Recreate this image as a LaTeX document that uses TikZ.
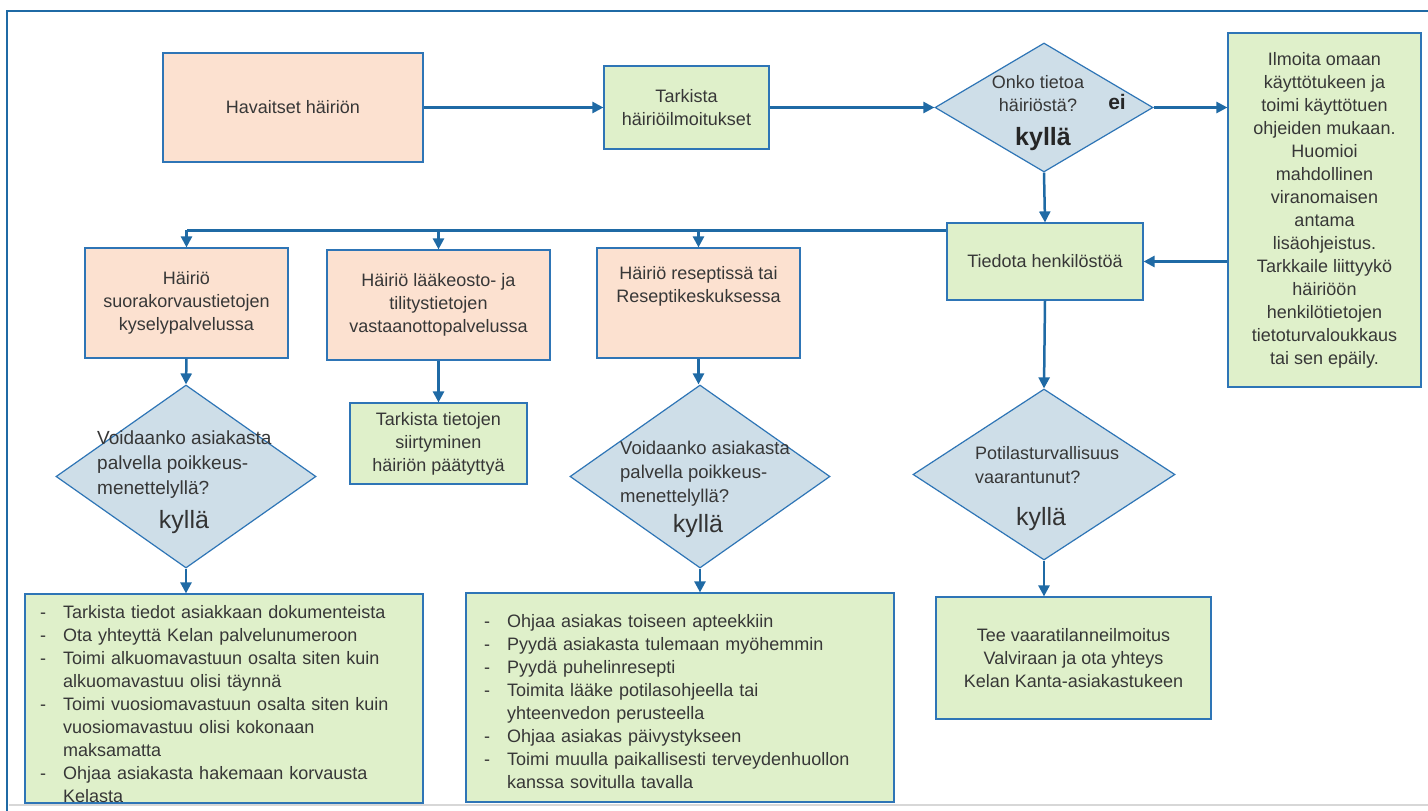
\documentclass[tikz,border=0pt]{standalone}
\usepackage{fontspec}
\setmainfont{Liberation Sans}
\usetikzlibrary{shapes.geometric,arrows.meta,calc}
\definecolor{peach}{RGB}{252,225,208}
\definecolor{lgreen}{RGB}{223,240,202}
\definecolor{diafill}{RGB}{206,222,232}
\definecolor{edge}{RGB}{46,117,182}
\definecolor{arrowc}{RGB}{31,106,165}
\definecolor{txt}{RGB}{55,55,55}
\definecolor{grayline}{RGB}{215,215,215}
\tikzset{
 box/.style={draw=edge, line width=1.2pt, inner sep=0pt, text=txt, align=center, font=\fontsize{18}{23}\selectfont},
 redbox/.style={box, fill=peach},
 grnbox/.style={box, fill=lgreen},
 dia/.style={diamond, draw=edge, line width=1.2pt, fill=diafill, inner sep=0pt},
 arr/.style={draw=arrowc, line width=2.5pt, -{Triangle[length=11pt,width=11pt]}},
 ln/.style={draw=arrowc, line width=2.5pt},
 lbl/.style={text=txt, font=\fontsize{18}{23}\selectfont, inner sep=0pt},
 dlbl/.style={text=txt, font=\fontsize{19}{25}\selectfont, inner sep=0pt, align=left},
 yes/.style={text=black!80, font=\fontsize{25}{28}\selectfont, inner sep=0pt},
 frame/.style={draw=arrowc, line width=2pt},
}
\newcommand{\itm}[1]{\hangindent=23pt\hangafter=1\noindent\makebox[23pt][l]{-}#1\par}
\begin{document}
\begin{tikzpicture}[x=1pt,y=-1pt]
\useasboundingbox (0,0) rectangle (1428,811);
\fill[white] (0,0) rectangle (1428,811);
% frame
\coordinate (fbl) at (7,811);
\coordinate (ftl) at (7,11);
\coordinate (ftr) at (1428,11);
\draw[frame] (fbl) -- (ftl) -- (ftr);
\coordinate (gl) at (9,805);
\coordinate (gr) at (1428,805);
\draw[grayline, line width=2pt] (gl) -- (gr);

% nodes
\node[redbox, minimum width=260pt, minimum height=109pt] (hav) at (293,107.5) {Havaitset häiriön};
\node[grnbox, minimum width=165pt, minimum height=83pt] (tar) at (686.5,107.5) {Tarkista\\häiriöilmoitukset};
\node[dia, minimum width=218pt, minimum height=129pt] (onko) at (1044,107.5) {};
\node[lbl, align=center] (onkot) at (1038,94) {Onko tietoa\\häiriöstä?};
\node[text=black!85, font=\bfseries\fontsize{21}{24}\selectfont, inner sep=0pt] (ei) at (1117,102) {ei};
\node[text=black!85, font=\bfseries\fontsize{25}{28}\selectfont, inner sep=0pt] (onkok) at (1043,139) {kyllä};

\node[grnbox, minimum width=193pt, minimum height=354pt] (ilm) at (1324.5,210) {Ilmoita omaan\\käyttötukeen ja\\toimi käyttötuen\\ohjeiden  mukaan.\\Huomioi\\mahdollinen\\viranomaisen\\antama\\lisäohjeistus.\\Tarkkaile  liittyykö\\häiriöön\\henkilötietojen\\tietoturvaloukkaus\\tai sen epäily.};

\node[grnbox, minimum width=196pt, minimum height=77pt] (tie) at (1045,261.5) {Tiedota  henkilöstöä};

\node[redbox, minimum width=203pt, minimum height=110pt] (b1) at (186.5,303) {Häiriö\\suorakorvaustietojen\\kyselypalvelussa};
\node[redbox, minimum width=223pt, minimum height=110pt] (b2) at (438.5,305) {Häiriö lääkeosto- ja\\tilitystietojen\\vastaanottopalvelussa};
\node[redbox, minimum width=203pt, minimum height=110pt] (b3) at (698.5,303) {Häiriö reseptissä tai\\Reseptikeskuksessa\\[14pt]};

\node[dia, minimum width=260pt, minimum height=183pt] (d1) at (186,476.5) {};
\node[dlbl, anchor=west] (d1t) at (97,465) {Voidaanko asiakasta\\palvella  poikkeus-\\menettelyllä?};
\node[yes] (d1k) at (184,522) {kyllä};

\node[grnbox, minimum width=177pt, minimum height=81pt] (t2) at (438.5,443.5) {Tarkista tietojen\\siirtyminen\\häiriön  päätyttyä};

\node[dia, minimum width=260pt, minimum height=183pt] (d2) at (700,476.5) {};
\node[dlbl, anchor=west, font=\fontsize{18.5}{24}\selectfont] (d2t) at (620,474) {Voidaanko  asiakasta\\palvella  poikkeus-\\menettelyllä?};
\node[yes] (d2k) at (698,526) {kyllä};

\node[dia, minimum width=262pt, minimum height=171pt] (d3) at (1044,474.5) {};
\node[dlbl, anchor=west, font=\fontsize{18}{24}\selectfont] (d3t) at (975,465) {Potilasturvallisuus\\vaarantunut?};
\node[yes] (d3k) at (1041,519) {kyllä};

\node[grnbox, minimum width=398pt, minimum height=209pt] (l1) at (224,698.5) {};
\node[lbl, anchor=north west, text width=380pt, align=left] (l1t) at (40,605) {%
\itm{Tarkista tiedot asiakkaan dokumenteista}
\itm{Ota yhteyttä Kelan palvelunumeroon}
\itm{Toimi alkuomavastuun  osalta siten kuin\newline alkuomavastuu  olisi täynnä}
\itm{Toimi vuosiomavastuun  osalta siten kuin\newline vuosiomavastuu  olisi kokonaan\newline maksamatta}
\itm{Ohjaa asiakasta hakemaan korvausta\newline Kelasta}};

\node[grnbox, minimum width=428pt, minimum height=209pt] (l2) at (680,697.5) {};
\node[lbl, anchor=north west, text width=400pt, align=left] (l2t) at (484,614) {%
\itm{Ohjaa asiakas toiseen apteekkiin}
\itm{Pyydä asiakasta tulemaan  myöhemmin}
\itm{Pyydä puhelinresepti}
\itm{Toimita lääke potilasohjeella tai\newline yhteenvedon  perusteella}
\itm{Ohjaa asiakas päivystykseen}
\itm{Toimi muulla paikallisesti terveydenhuollon\newline kanssa sovitulla tavalla}};

\node[grnbox, minimum width=275pt, minimum height=122pt] (val) at (1073.5,658) {Tee vaaratilanneilmoitus\\Valviraan  ja ota yhteys\\Kelan Kanta-asiakastukeen};

% connectors
\draw[arr] (hav.east) -- (tar.west);
\draw[arr] (tar.east) -- (onko.west);
\draw[arr] (onko.east) -- (onko.east -| ilm.west);
\draw[arr] (onko.south) -- (tie.north);
\draw[arr] (tie.east -| ilm.west) -- (tie.east);
\coordinate (bus) at ($(tie.north west)+(0,8)$);
\draw[ln] (bus) -- (bus -| b1.north);
\draw[arr] (bus -| b1.north) -- (b1.north);
\draw[arr] (bus -| b2.north) -- (b2.north);
\draw[arr] (bus -| b3.north) -- (b3.north);
\draw[arr] (b1.south) -- (d1.north);
\draw[arr] (b2.south) -- (t2.north);
\draw[arr] (b3.south) -- (b3.south |- d2.north);
\draw[arr] (tie.south) -- (d3.north);
\draw[arr] (d1.south) -- (d1.south |- l1.north);
\draw[arr] (d2.south) -- (d2.south |- l2.north);
\draw[arr] (d3.south) -- (d3.south |- val.north);
\end{tikzpicture}
\end{document}
